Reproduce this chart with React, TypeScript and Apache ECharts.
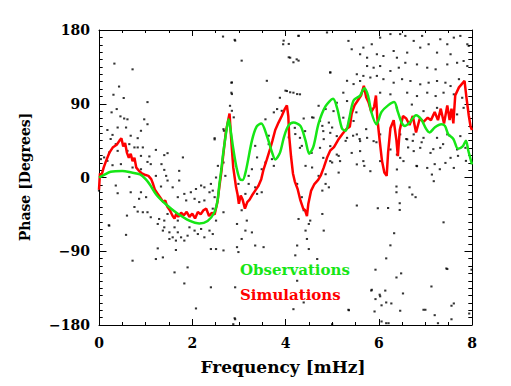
import React, { useEffect, useRef } from "react";
import * as echarts from "echarts";

const xTicks = [0, 2, 4, 6, 8];
const yTicks = [-180, -90, 0, 90, 180];

// Observations (green) [frequency mHz, phase deg]
const observations: number[][] = [
  [0.0, 0], [0.1, 3], [0.25, 7], [0.5, 8], [0.7, 6], [0.88, 3.7], [1.0, -2], [1.09, -8.6],
  [1.23, -21], [1.44, -33], [1.66, -43], [1.95, -53], [2.15, -56], [2.33, -53], [2.47, -43],
  [2.54, -29], [2.58, -9], [2.62, 8], [2.66, 28], [2.73, 56], [2.78, 71], [2.83, 55],
  [2.88, 35], [2.95, 12], [3.02, -2], [3.08, -3], [3.15, 8], [3.28, 45], [3.38, 62],
  [3.48, 66], [3.6, 51], [3.71, 31], [3.78, 22], [3.88, 30], [3.97, 50], [4.06, 63],
  [4.17, 67], [4.32, 63], [4.43, 45], [4.51, 29], [4.6, 38], [4.71, 66], [4.86, 87],
  [5.02, 96], [5.11, 84], [5.21, 60], [5.29, 57], [5.36, 70], [5.46, 94], [5.6, 100],
  [5.69, 109], [5.77, 100], [5.84, 80], [5.95, 65], [6.06, 80], [6.2, 88], [6.33, 92],
  [6.41, 80], [6.49, 67], [6.56, 63], [6.66, 67], [6.8, 76], [6.91, 71], [7.02, 59],
  [7.09, 55], [7.2, 61], [7.34, 65], [7.42, 63], [7.49, 53], [7.6, 47], [7.7, 35],
  [7.8, 38], [7.87, 45], [7.92, 33], [8.0, 16],
];

// Simulations (red)
const simulations: number[][] = [
  [0.0, -15], [0.02, 5], [0.05, 2], [0.1, 12], [0.15, 20], [0.22, 30], [0.3, 37], [0.38, 40],
  [0.44, 45], [0.48, 48], [0.52, 38], [0.56, 42], [0.6, 30], [0.64, 24], [0.68, 29],
  [0.72, 20], [0.76, 24], [0.8, 12], [0.86, 8], [0.92, 5], [1.0, 3], [1.06, 2], [1.12, -2],
  [1.16, -8], [1.2, -15], [1.26, -20], [1.32, -25], [1.38, -30], [1.42, -28], [1.46, -35],
  [1.52, -40], [1.58, -47], [1.62, -50], [1.66, -44], [1.7, -48], [1.76, -43], [1.82, -46],
  [1.88, -42], [1.94, -48], [2.0, -44], [2.06, -50], [2.12, -42], [2.18, -45], [2.24, -40],
  [2.3, -38], [2.36, -47], [2.42, -43], [2.48, -45], [2.54, -30], [2.58, -12], [2.62, 5],
  [2.66, 25], [2.72, 55], [2.77, 70], [2.8, 78], [2.82, 60], [2.85, 35], [2.88, 12],
  [2.91, 0], [2.94, -12], [2.97, -20], [3.0, -32], [3.04, -22], [3.08, -27], [3.13, -38],
  [3.18, -30], [3.23, -27], [3.28, -22], [3.35, -16], [3.42, -10], [3.48, -2], [3.53, 10],
  [3.6, 22], [3.67, 35], [3.72, 45], [3.78, 58], [3.85, 67], [3.92, 75], [3.98, 83],
  [4.03, 88], [4.06, 75], [4.08, 50], [4.12, 25], [4.16, 5], [4.2, -5], [4.26, -14],
  [4.32, -28], [4.38, -38], [4.42, -40], [4.46, -47], [4.49, -32], [4.55, -16], [4.62, -8],
  [4.7, -3], [4.76, 3], [4.82, 12], [4.89, 24], [4.96, 33], [5.04, 37], [5.13, 46],
  [5.22, 53], [5.32, 60], [5.38, 62], [5.42, 78], [5.48, 88], [5.55, 94], [5.62, 100],
  [5.68, 112], [5.73, 98], [5.78, 92], [5.84, 80], [5.9, 86], [5.94, 100], [5.97, 72],
  [6.02, 45], [6.07, 20], [6.12, 6], [6.17, 2], [6.2, 30], [6.25, 60], [6.32, 70],
  [6.38, 45], [6.41, 26], [6.45, 58], [6.52, 75], [6.59, 72], [6.66, 64], [6.73, 75],
  [6.8, 55], [6.88, 72], [6.96, 68], [7.05, 73], [7.12, 70], [7.2, 80], [7.27, 70],
  [7.33, 84], [7.4, 66], [7.47, 88], [7.52, 70], [7.56, 84], [7.6, 66], [7.64, 100],
  [7.72, 110], [7.78, 114], [7.84, 118], [7.88, 98], [7.93, 76], [7.97, 62], [8.0, 58],
];

// Individual measurements (black dots)
const measurements: number[][] = [
  [0.33, 139], [0.72, 132], [0.43, 111], [0.31, 101], [0.53, 97], [1.04, 92], [0.38, 83.5],
  [0.27, 79.5], [0.46, 74.6], [0.54, 72], [0.61, 71], [0.97, 71], [1.04, 65], [0.4, 61],
  [0.58, 61], [0.18, 58], [0.9, 57], [0.29, 52], [0.68, 51], [0.83, 48], [0.25, 47],
  [2.48, 48], [2.68, 57], [0.36, 40.7], [0.65, 40.7], [0.76, 36.7], [0.83, 36.7],
  [0.94, 36.7], [0.22, 30.6], [0.4, 32.5], [0.61, 32.5], [1.22, 33.7], [1.4, 27.3],
  [1.47, 29.7], [0.9, 26.4], [1.08, 25.7], [1.8, 24.5], [0.11, 24.5], [0.04, 22.4],
  [0.18, 20.3], [1.04, 19], [1.34, 16.3], [1.11, 16.3], [0.47, 16.3], [0.72, 12.2],
  [0.9, 10.1], [1.4, 9.3], [1.72, 8.1], [2.55, 14.2], [2.62, 10.1], [2.51, 0], [0.29, 15],
  [1.22, 2], [1.44, 2], [0.65, 0.7],
  [0.36, -9.8], [0.68, -18], [0.9, -18], [0.4, -19.2], [1.01, -24], [0.76, -36], [0.86, -26],
  [0.6, -46.5], [0.83, -41.6], [0.94, -42.4], [1.04, -42.4], [1.11, -48.5], [1.29, -50.6],
  [1.26, -56.7], [1.4, -52.6], [1.47, -44.5], [1.4, -60.8], [1.62, -60.8], [1.37, -64.8],
  [1.51, -66.9], [1.69, -66.9], [1.58, -73], [1.76, -73], [1.9, -71], [2.05, -64.8],
  [2.19, -62.8], [2.12, -69], [2.37, -64.8], [2.44, -69], [2.26, -73], [1.51, -75],
  [1.65, -77], [1.83, -77], [1.87, -28], [1.69, -24], [1.83, -20], [1.97, -18], [2.08, -14],
  [2.19, -9.8], [2.26, -12], [2.4, -7.8], [2.44, -16], [1.58, -12], [1.47, -3.7],
  [1.72, -3.7], [1.33, -11], [2.05, -26], [2.15, -30], [2.26, -28], [2.37, -18], [2.48, -24],
  [2.44, -38], [2.51, -52.6], [1.69, -52.6], [1.94, -60.8], [1.26, -86.5], [1.65, -88.5],
  [1.37, -97.5], [0.72, -101.5], [1.22, -99.5], [2.4, -87.3], [2.51, -87.3], [1.9, -109.7],
  [1.62, -115.8], [1.83, -129.3], [2.4, -134], [2.08, -159.8], [0.58, -70], [0.22, -58.7],
  [0.0, -16], [0.21, -58.3], [2.91, -171.7],
  [2.92, 167], [3.96, 167], [4.07, 163], [4.28, 173], [3.06, 142.6], [4.07, 146.7],
  [4.17, 140.6], [4.28, 142.6], [4.96, 128.4], [2.85, 116], [3.6, 118], [5.32, 118],
  [2.85, 101.8], [4.0, 106], [4.1, 104], [4.25, 101.8], [3.88, 97.3], [2.81, 87.5],
  [2.85, 81.4], [3.82, 83.5], [3.92, 81.4], [3.75, 79.5], [4.39, 72], [4.57, 73.4],
  [4.71, 87.5], [4.86, 83.5], [2.67, 59], [2.89, 73.4], [3.57, 71], [4.07, 59], [3.64, 51],
  [4.07, 49], [4.21, 53], [4.35, 38.6], [4.79, 63], [4.93, 67], [5.0, 61], [5.29, 44.7],
  [4.82, 46.8], [3.64, 40.7], [3.35, 38.6], [3.71, 22.4], [3.57, 18.3], [3.39, 24.5],
  [3.75, 14.2], [3.49, 10.1], [3.28, 10.1], [4.43, 14.2], [4.57, 12.2], [5.0, 18.3],
  [5.14, 26.4], [2.67, 18.3], [2.71, 2], [3.21, 2], [4.71, 2], [4.86, 4], [5.14, 6],
  [2.66, 172], [2.91, 168], [2.84, 115.7], [2.84, 103.5], [2.48, 46.5], [3.95, 162.6],
  [2.99, -7.8], [3.21, -7.8], [3.35, -12], [3.14, -20], [3.39, -20], [3.49, -18],
  [3.06, -40], [2.96, -56.7], [3.17, -52.6], [3.14, -64.8], [3.28, -67], [3.06, -75],
  [3.35, -83], [2.96, -85], [3.53, -85], [2.99, -91], [4.25, -7.8], [4.35, -24],
  [4.39, -40], [4.53, -52.6], [4.5, -56.7], [4.43, -64.8], [4.46, -75], [4.25, -83],
  [4.21, -95], [4.5, -87.3], [4.68, -99.5], [4.79, -44.5], [4.82, -64.8], [4.28, -50.6],
  [4.79, -16], [4.86, -7.8], [4.93, -12], [2.67, -42.4], [2.67, -89], [2.92, -134],
  [4.25, -126], [4.39, -152.5], [4.17, -160.7], [2.92, -173], [2.88, -179], [5.0, -179],
  [4.28, 172.8], [4.89, 177], [5.35, 166.7], [5.67, 158.5], [5.85, 162.6], [6.03, 170.7],
  [6.25, 175], [6.46, 175], [6.57, 172.8], [6.75, 166.7], [6.93, 172.8], [7.07, 162.6],
  [7.32, 168.7], [7.61, 170.7], [7.75, 172.8], [7.9, 162.6], [7.47, 162.6], [4.1, 146.2],
  [4.24, 144.2], [5.42, 156.5], [5.6, 150.4], [5.75, 146.2], [5.96, 150.4], [6.1, 148.3],
  [6.32, 154.4], [6.39, 146.2], [6.61, 152.4], [6.89, 158.5], [7.25, 152.4], [7.54, 150.4],
  [7.82, 142.2], [7.93, 160.6], [5.75, 136], [5.89, 134], [6.03, 136], [6.25, 130],
  [6.43, 134], [6.57, 140], [6.82, 138], [7.04, 134], [7.22, 132], [7.47, 138], [7.68, 140],
  [7.9, 136], [4.96, 128], [5.53, 126], [5.67, 124], [5.82, 122], [5.96, 124], [6.1, 120],
  [5.46, 114], [5.6, 117.8], [6.32, 115.7], [6.5, 120], [6.68, 117.8], [6.89, 113.7],
  [7.07, 115.7], [7.25, 117.8], [7.43, 115.7], [7.54, 111.6], [7.72, 120], [4.03, 105.5],
  [4.17, 103.5], [4.31, 101.5], [5.24, 103.5], [5.32, 93.3], [6.03, 103.5], [6.25, 101.5],
  [6.61, 103.5], [6.82, 99.4], [7.04, 103.5], [7.22, 99.4], [7.39, 103.5], [7.61, 101.5],
  [7.79, 97.3], [5.1, 91.2], [5.03, 81], [4.6, 73], [4.74, 69], [5.24, 73], [5.46, 69],
  [6.39, 85], [6.71, 89], [7.25, 85], [7.82, 85], [6.96, 81], [7.54, 79], [7.68, 77],
  [4.2, 60.6], [4.42, 56.6], [4.81, 56.6], [4.96, 54.5], [5.1, 50.5], [4.31, 48.4],
  [5.32, 48.4], [5.53, 52.6], [5.6, 44.4], [5.75, 48.4], [5.89, 44.4], [6.03, 52.6],
  [6.46, 52.6], [6.61, 46.5], [6.75, 52.6], [6.96, 48.4], [7.25, 48.4], [7.47, 52.6],
  [7.75, 50.5], [4.31, 36.2], [4.56, 30], [4.74, 36.2], [4.96, 38.3], [5.1, 28], [4.81, 24],
  [4.96, 20], [5.17, 20], [5.42, 30], [5.6, 32.2], [6.25, 34.2], [6.39, 28], [6.46, 24],
  [6.53, 20], [6.75, 32.2], [6.89, 36.2], [7.11, 30], [7.32, 36.2], [7.54, 24], [7.68, 34.2],
  [7.86, 36.2], [5.53, 16], [5.67, 20], [6.03, 20], [5.82, 7.7], [6.39, 9.8], [6.82, 13.8],
  [7.04, 11.7], [7.14, 3.6], [7.43, 17.8], [7.61, 11.7],
  [5.34, 63], [5.52, 79.5], [5.45, 51], [5.73, 59], [5.59, 47], [5.95, 43], [6.59, 47],
  [6.73, 44.7], [6.63, 36.7], [6.92, 43], [7.17, 34.6], [7.38, 40.7], [7.52, 51], [7.7, 26.4],
  [7.87, 20.3], [6.81, 14.2], [7.2, 16.3], [7.31, 10.1], [5.69, 14.2],
  [6.38, -11], [6.66, -12], [6.38, -18], [6.72, -20.8], [6.79, -24], [7.18, -4.5],
  [6.45, -31.4], [5.53, -34.2], [5.98, -37.5], [6.2, -37.2], [6.45, -39.6], [7.39, -54.7],
  [6.33, -68], [6.25, -82.8], [6.16, -98.7], [7.45, -111], [5.93, -112.5], [6.48, -117],
  [6.38, -122], [7.99, -112.5], [5.84, -138], [6.14, -138], [6.02, -143], [6.52, -141.5],
  [7.13, -133], [5.93, -148.4], [6.16, -152.5], [6.27, -153.7], [6.06, -156], [7.61, -153.7],
  [7.56, -156.5], [5.36, -162], [5.91, -163.5], [6.46, -162.6], [6.96, -161.4], [7.2, -168],
  [7.94, -166], [6.06, -175.7], [6.21, -177.8], [7.27, -177.8], [7.56, -173], [6.03, -145],
  [5.35, -161.4], [5.85, -137], [6.16, -177.8], [7.47, -111.7], [7.0, -161.4],
];

const FONT = "DejaVu Serif";

export default function App() {
  const ref = useRef<HTMLDivElement>(null);
  useEffect(() => {
    document.body.style.margin = "0";
    if (!ref.current) return;
    const chart = echarts.init(ref.current, undefined, { renderer: "svg" });
    const axisLine = { show: true, onZero: false, lineStyle: { color: "#000", width: 1 } };
    const xBase = {
      type: "value" as const,
      min: 0,
      max: 8,
      interval: 2,
      axisLine,
      splitLine: { show: false },
      axisTick: { show: true, inside: true, length: 6, lineStyle: { color: "#000" } },
      minorTick: { show: true, splitNumber: 4, length: 3, lineStyle: { color: "#000" } },
    };
    const yBase = {
      type: "value" as const,
      min: -180,
      max: 180,
      interval: 90,
      axisLine,
      splitLine: { show: false },
      axisTick: { show: true, inside: true, length: 7.5, lineStyle: { color: "#000" } },
      minorTick: { show: true, splitNumber: 10, length: 3.7, lineStyle: { color: "#000" } },
    };
    chart.setOption({
      animation: false,
      backgroundColor: "#fff",
      grid: { left: 99, top: 30, right: 39, bottom: 61 },
      xAxis: [
        {
          ...xBase,
          position: "bottom",
          axisLabel: {
            color: "#000",
            fontFamily: FONT,
            fontWeight: "bold",
            fontSize: 14,
            margin: 11,
            formatter: (v: number) => (xTicks.includes(v) ? String(v) : ""),
          },
        },
        { ...xBase, position: "top", axisLabel: { show: false } },
      ],
      yAxis: [
        {
          ...yBase,
          position: "left",
          axisLabel: {
            color: "#000",
            fontFamily: FONT,
            fontWeight: "bold",
            fontSize: 14,
            margin: 9,
            formatter: (v: number) =>
              yTicks.includes(v) ? (v < 0 ? "\u2212" + Math.abs(v) : String(v)) : "",
          },
        },
        { ...yBase, position: "right", axisLabel: { show: false } },
      ],
      graphic: [
        {
          type: "text",
          x: 283,
          y: 367,
          style: {
            text: "Frequency [mHz]",
            fill: "#000",
            font: `bold 17px '${FONT}'`,
            align: "center",
            verticalAlign: "middle",
          },
        },
        {
          type: "text",
          x: 25,
          y: 177,
          rotation: Math.PI / 2,
          style: {
            text: "Phase [Degrees]",
            fill: "#000",
            font: `bold 14px '${FONT}'`,
            align: "center",
            verticalAlign: "middle",
          },
        },
        {
          type: "text",
          x: 240,
          y: 270,
          z: 100,
          style: {
            text: "Observations",
            fill: "#16e616",
            font: `bold 15px '${FONT}'`,
            align: "left",
            verticalAlign: "middle",
          },
        },
        {
          type: "text",
          x: 240,
          y: 295,
          z: 100,
          style: {
            text: "Simulations",
            fill: "#ff0000",
            font: `bold 15px '${FONT}'`,
            align: "left",
            verticalAlign: "middle",
          },
        },
      ],
      series: [
        {
          type: "scatter",
          data: measurements,
          symbol: "rect",
          symbolSize: [2.2, 2],
          itemStyle: { color: "#000" },
          silent: true,
          z: 1,
        },
        {
          type: "line",
          data: simulations,
          showSymbol: false,
          lineStyle: { color: "#ff0000", width: 2.5 },
          z: 2,
        },
        {
          type: "line",
          data: observations,
          showSymbol: false,
          smooth: 0.3,
          lineStyle: { color: "#16e616", width: 2.5 },
          z: 3,
        },
      ],
    });
    return () => chart.dispose();
  }, []);
  return <div ref={ref} style={{ width: 511, height: 386 }} />;
}
